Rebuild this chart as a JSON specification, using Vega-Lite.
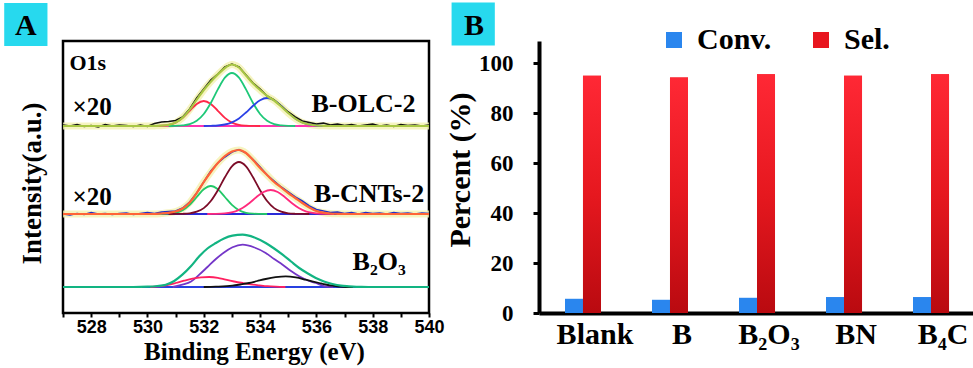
{
"$schema": "https://vega.github.io/schema/vega-lite/v6.json",
"padding": {"left": 2, "top": 1, "right": 0, "bottom": 0},
"background": "white",
"spacing": 110,
"bounds": "flush",
"resolve": {"scale": {"color": "independent"}, "legend": {"color": "independent"}},
"config": {"view": {"stroke": null}, "font": "Liberation Serif"},
"datasets": {
"spectra": [
{"s":"OLC raw","k":"raw","x":527,"y":188},{"s":"OLC raw","k":"raw","x":527.25,"y":187},{"s":"OLC raw","k":"raw","x":527.5,"y":188.5},{"s":"OLC raw","k":"raw","x":527.75,"y":186.5},{"s":"OLC raw","k":"raw","x":528,"y":187.5},{"s":"OLC raw","k":"raw","x":528.25,"y":186},{"s":"OLC raw","k":"raw","x":528.5,"y":188.5},{"s":"OLC raw","k":"raw","x":528.75,"y":187},{"s":"OLC raw","k":"raw","x":529,"y":188},{"s":"OLC raw","k":"raw","x":529.25,"y":187.5},{"s":"OLC raw","k":"raw","x":529.5,"y":186.5},{"s":"OLC raw","k":"raw","x":529.75,"y":188},{"s":"OLC raw","k":"raw","x":530,"y":186.5},{"s":"OLC raw","k":"raw","x":530.25,"y":189.5},{"s":"OLC raw","k":"raw","x":530.5,"y":191},{"s":"OLC raw","k":"raw","x":530.75,"y":191.5},{"s":"OLC raw","k":"raw","x":531,"y":192.5},{"s":"OLC raw","k":"raw","x":531.25,"y":196},{"s":"OLC raw","k":"raw","x":531.5,"y":204},{"s":"OLC raw","k":"raw","x":531.75,"y":215},{"s":"OLC raw","k":"raw","x":532,"y":224},{"s":"OLC raw","k":"raw","x":532.25,"y":233},{"s":"OLC raw","k":"raw","x":532.5,"y":239},{"s":"OLC raw","k":"raw","x":532.75,"y":246},{"s":"OLC raw","k":"raw","x":533,"y":249},{"s":"OLC raw","k":"raw","x":533.25,"y":246},{"s":"OLC raw","k":"raw","x":533.5,"y":238},{"s":"OLC raw","k":"raw","x":533.75,"y":230},{"s":"OLC raw","k":"raw","x":534,"y":224},{"s":"OLC raw","k":"raw","x":534.25,"y":217},{"s":"OLC raw","k":"raw","x":534.5,"y":213},{"s":"OLC raw","k":"raw","x":534.75,"y":207},{"s":"OLC raw","k":"raw","x":535,"y":201},{"s":"OLC raw","k":"raw","x":535.25,"y":196},{"s":"OLC raw","k":"raw","x":535.5,"y":192},{"s":"OLC raw","k":"raw","x":535.75,"y":190.5},{"s":"OLC raw","k":"raw","x":536,"y":189},{"s":"OLC raw","k":"raw","x":536.25,"y":190},{"s":"OLC raw","k":"raw","x":536.5,"y":188},{"s":"OLC raw","k":"raw","x":536.75,"y":189},{"s":"OLC raw","k":"raw","x":537,"y":187.5},{"s":"OLC raw","k":"raw","x":537.25,"y":188.5},{"s":"OLC raw","k":"raw","x":537.5,"y":187},{"s":"OLC raw","k":"raw","x":537.75,"y":188},{"s":"OLC raw","k":"raw","x":538,"y":189},{"s":"OLC raw","k":"raw","x":538.25,"y":187},{"s":"OLC raw","k":"raw","x":538.5,"y":188},{"s":"OLC raw","k":"raw","x":538.75,"y":186.5},{"s":"OLC raw","k":"raw","x":539,"y":188.5},{"s":"OLC raw","k":"raw","x":539.25,"y":187.5},{"s":"OLC raw","k":"raw","x":539.5,"y":188},{"s":"OLC raw","k":"raw","x":539.75,"y":187},{"s":"OLC raw","k":"raw","x":540,"y":188},
{"s":"OLC fit","k":"fit","x":527,"y":187},{"s":"OLC fit","k":"fit","x":530,"y":187},{"s":"OLC fit","k":"fit","x":530.25,"y":187.1},{"s":"OLC fit","k":"fit","x":530.5,"y":187.3},{"s":"OLC fit","k":"fit","x":530.75,"y":188.1},{"s":"OLC fit","k":"fit","x":531,"y":190.4},{"s":"OLC fit","k":"fit","x":531.25,"y":195.4},{"s":"OLC fit","k":"fit","x":531.5,"y":203.4},{"s":"OLC fit","k":"fit","x":531.75,"y":213.4},{"s":"OLC fit","k":"fit","x":532,"y":223},{"s":"OLC fit","k":"fit","x":532.25,"y":231.3},{"s":"OLC fit","k":"fit","x":532.5,"y":238.6},{"s":"OLC fit","k":"fit","x":532.75,"y":245},{"s":"OLC fit","k":"fit","x":533,"y":248.5},{"s":"OLC fit","k":"fit","x":533.25,"y":245.5},{"s":"OLC fit","k":"fit","x":533.5,"y":237.5},{"s":"OLC fit","k":"fit","x":533.75,"y":229.5},{"s":"OLC fit","k":"fit","x":534,"y":223},{"s":"OLC fit","k":"fit","x":534.25,"y":217},{"s":"OLC fit","k":"fit","x":534.5,"y":212.5},{"s":"OLC fit","k":"fit","x":534.75,"y":206.5},{"s":"OLC fit","k":"fit","x":535,"y":200},{"s":"OLC fit","k":"fit","x":535.25,"y":194.4},{"s":"OLC fit","k":"fit","x":535.5,"y":190.5},{"s":"OLC fit","k":"fit","x":535.75,"y":188.5},{"s":"OLC fit","k":"fit","x":536,"y":187.5},{"s":"OLC fit","k":"fit","x":536.25,"y":187.2},{"s":"OLC fit","k":"fit","x":536.5,"y":187},{"s":"OLC fit","k":"fit","x":540,"y":187},
{"s":"OLC p1","k":"peak","x":530,"y":187},{"s":"OLC p1","k":"peak","x":530.25,"y":187.05},{"s":"OLC p1","k":"peak","x":530.5,"y":187.3},{"s":"OLC p1","k":"peak","x":530.75,"y":188.1},{"s":"OLC p1","k":"peak","x":531,"y":190.4},{"s":"OLC p1","k":"peak","x":531.25,"y":195.1},{"s":"OLC p1","k":"peak","x":531.5,"y":202.2},{"s":"OLC p1","k":"peak","x":531.75,"y":209.1},{"s":"OLC p1","k":"peak","x":532,"y":212},{"s":"OLC p1","k":"peak","x":532.25,"y":209.1},{"s":"OLC p1","k":"peak","x":532.5,"y":202.2},{"s":"OLC p1","k":"peak","x":532.75,"y":195.1},{"s":"OLC p1","k":"peak","x":533,"y":190.4},{"s":"OLC p1","k":"peak","x":533.25,"y":188.1},{"s":"OLC p1","k":"peak","x":533.5,"y":187.3},{"s":"OLC p1","k":"peak","x":533.75,"y":187.05},{"s":"OLC p1","k":"peak","x":534,"y":187},
{"s":"OLC p2","k":"peak","x":530.75,"y":187},{"s":"OLC p2","k":"peak","x":531,"y":187.1},{"s":"OLC p2","k":"peak","x":531.25,"y":187.6},{"s":"OLC p2","k":"peak","x":531.5,"y":188.9},{"s":"OLC p2","k":"peak","x":531.75,"y":192.2},{"s":"OLC p2","k":"peak","x":532,"y":199},{"s":"OLC p2","k":"peak","x":532.25,"y":210},{"s":"OLC p2","k":"peak","x":532.5,"y":223.6},{"s":"OLC p2","k":"peak","x":532.75,"y":235.3},{"s":"OLC p2","k":"peak","x":533,"y":240},{"s":"OLC p2","k":"peak","x":533.25,"y":235.3},{"s":"OLC p2","k":"peak","x":533.5,"y":223.6},{"s":"OLC p2","k":"peak","x":533.75,"y":210},{"s":"OLC p2","k":"peak","x":534,"y":199},{"s":"OLC p2","k":"peak","x":534.25,"y":192.2},{"s":"OLC p2","k":"peak","x":534.5,"y":188.9},{"s":"OLC p2","k":"peak","x":534.75,"y":187.6},{"s":"OLC p2","k":"peak","x":535,"y":187.1},{"s":"OLC p2","k":"peak","x":535.25,"y":187},
{"s":"OLC p3","k":"peak","x":532,"y":187},{"s":"OLC p3","k":"peak","x":532.25,"y":187.2},{"s":"OLC p3","k":"peak","x":532.5,"y":187.5},{"s":"OLC p3","k":"peak","x":532.75,"y":188.5},{"s":"OLC p3","k":"peak","x":533,"y":190.7},{"s":"OLC p3","k":"peak","x":533.25,"y":194.6},{"s":"OLC p3","k":"peak","x":533.5,"y":200.5},{"s":"OLC p3","k":"peak","x":533.75,"y":207.2},{"s":"OLC p3","k":"peak","x":534,"y":212.8},{"s":"OLC p3","k":"peak","x":534.25,"y":215},{"s":"OLC p3","k":"peak","x":534.5,"y":212.8},{"s":"OLC p3","k":"peak","x":534.75,"y":207.2},{"s":"OLC p3","k":"peak","x":535,"y":200.5},{"s":"OLC p3","k":"peak","x":535.25,"y":194.6},{"s":"OLC p3","k":"peak","x":535.5,"y":190.7},{"s":"OLC p3","k":"peak","x":535.75,"y":188.5},{"s":"OLC p3","k":"peak","x":536,"y":187.5},{"s":"OLC p3","k":"peak","x":536.25,"y":187.2},{"s":"OLC p3","k":"peak","x":536.5,"y":187},
{"s":"OLC base","k":"base","x":530.4,"y":187},{"s":"OLC base","k":"base","x":536.3,"y":187},
{"s":"CNT raw","k":"raw","x":527,"y":99},{"s":"CNT raw","k":"raw","x":527.25,"y":98},{"s":"CNT raw","k":"raw","x":527.5,"y":99.5},{"s":"CNT raw","k":"raw","x":527.75,"y":98.5},{"s":"CNT raw","k":"raw","x":528,"y":100.5},{"s":"CNT raw","k":"raw","x":528.25,"y":99},{"s":"CNT raw","k":"raw","x":528.5,"y":99.5},{"s":"CNT raw","k":"raw","x":528.75,"y":98.5},{"s":"CNT raw","k":"raw","x":529,"y":99.5},{"s":"CNT raw","k":"raw","x":529.25,"y":100},{"s":"CNT raw","k":"raw","x":529.5,"y":98.5},{"s":"CNT raw","k":"raw","x":529.75,"y":99.5},{"s":"CNT raw","k":"raw","x":530,"y":100.5},{"s":"CNT raw","k":"raw","x":530.25,"y":99.5},{"s":"CNT raw","k":"raw","x":530.5,"y":101},{"s":"CNT raw","k":"raw","x":530.75,"y":101.5},{"s":"CNT raw","k":"raw","x":531,"y":102},{"s":"CNT raw","k":"raw","x":531.25,"y":105},{"s":"CNT raw","k":"raw","x":531.5,"y":111},{"s":"CNT raw","k":"raw","x":531.75,"y":120},{"s":"CNT raw","k":"raw","x":532,"y":131},{"s":"CNT raw","k":"raw","x":532.25,"y":142},{"s":"CNT raw","k":"raw","x":532.5,"y":150},{"s":"CNT raw","k":"raw","x":532.75,"y":156},{"s":"CNT raw","k":"raw","x":533,"y":161},{"s":"CNT raw","k":"raw","x":533.25,"y":163.5},{"s":"CNT raw","k":"raw","x":533.5,"y":160},{"s":"CNT raw","k":"raw","x":533.75,"y":153.5},{"s":"CNT raw","k":"raw","x":534,"y":146},{"s":"CNT raw","k":"raw","x":534.25,"y":138},{"s":"CNT raw","k":"raw","x":534.5,"y":132},{"s":"CNT raw","k":"raw","x":534.75,"y":126},{"s":"CNT raw","k":"raw","x":535,"y":121},{"s":"CNT raw","k":"raw","x":535.25,"y":116},{"s":"CNT raw","k":"raw","x":535.5,"y":112},{"s":"CNT raw","k":"raw","x":535.75,"y":107},{"s":"CNT raw","k":"raw","x":536,"y":103.5},{"s":"CNT raw","k":"raw","x":536.25,"y":102},{"s":"CNT raw","k":"raw","x":536.5,"y":100.5},{"s":"CNT raw","k":"raw","x":536.75,"y":101},{"s":"CNT raw","k":"raw","x":537,"y":99.5},{"s":"CNT raw","k":"raw","x":537.25,"y":100.5},{"s":"CNT raw","k":"raw","x":537.5,"y":99},{"s":"CNT raw","k":"raw","x":537.75,"y":100.5},{"s":"CNT raw","k":"raw","x":538,"y":99.5},{"s":"CNT raw","k":"raw","x":538.25,"y":100},{"s":"CNT raw","k":"raw","x":538.5,"y":99},{"s":"CNT raw","k":"raw","x":538.75,"y":100.5},{"s":"CNT raw","k":"raw","x":539,"y":99.5},{"s":"CNT raw","k":"raw","x":539.25,"y":100},{"s":"CNT raw","k":"raw","x":539.5,"y":99},{"s":"CNT raw","k":"raw","x":539.75,"y":100},{"s":"CNT raw","k":"raw","x":540,"y":99.5},
{"s":"CNT fit","k":"fit","x":527,"y":99},{"s":"CNT fit","k":"fit","x":530.25,"y":99},{"s":"CNT fit","k":"fit","x":530.5,"y":99.5},{"s":"CNT fit","k":"fit","x":530.75,"y":100.2},{"s":"CNT fit","k":"fit","x":531,"y":101.5},{"s":"CNT fit","k":"fit","x":531.25,"y":104.5},{"s":"CNT fit","k":"fit","x":531.5,"y":110.5},{"s":"CNT fit","k":"fit","x":531.75,"y":120},{"s":"CNT fit","k":"fit","x":532,"y":131},{"s":"CNT fit","k":"fit","x":532.25,"y":141},{"s":"CNT fit","k":"fit","x":532.5,"y":150},{"s":"CNT fit","k":"fit","x":532.75,"y":157},{"s":"CNT fit","k":"fit","x":533,"y":161.5},{"s":"CNT fit","k":"fit","x":533.25,"y":163},{"s":"CNT fit","k":"fit","x":533.5,"y":160},{"s":"CNT fit","k":"fit","x":533.75,"y":153},{"s":"CNT fit","k":"fit","x":534,"y":145},{"s":"CNT fit","k":"fit","x":534.25,"y":138},{"s":"CNT fit","k":"fit","x":534.5,"y":131},{"s":"CNT fit","k":"fit","x":534.75,"y":125.5},{"s":"CNT fit","k":"fit","x":535,"y":120},{"s":"CNT fit","k":"fit","x":535.25,"y":115},{"s":"CNT fit","k":"fit","x":535.5,"y":110},{"s":"CNT fit","k":"fit","x":535.75,"y":105.5},{"s":"CNT fit","k":"fit","x":536,"y":102},{"s":"CNT fit","k":"fit","x":536.25,"y":100.3},{"s":"CNT fit","k":"fit","x":536.5,"y":99.5},{"s":"CNT fit","k":"fit","x":536.75,"y":99.2},{"s":"CNT fit","k":"fit","x":537,"y":99},{"s":"CNT fit","k":"fit","x":540,"y":99},
{"s":"CNT p1","k":"peak","x":530.25,"y":99},{"s":"CNT p1","k":"peak","x":530.5,"y":99.1},{"s":"CNT p1","k":"peak","x":530.75,"y":99.3},{"s":"CNT p1","k":"peak","x":531,"y":100.2},{"s":"CNT p1","k":"peak","x":531.25,"y":102.8},{"s":"CNT p1","k":"peak","x":531.5,"y":108.1},{"s":"CNT p1","k":"peak","x":531.75,"y":116},{"s":"CNT p1","k":"peak","x":532,"y":123.7},{"s":"CNT p1","k":"peak","x":532.25,"y":127},{"s":"CNT p1","k":"peak","x":532.5,"y":123.7},{"s":"CNT p1","k":"peak","x":532.75,"y":116},{"s":"CNT p1","k":"peak","x":533,"y":108.1},{"s":"CNT p1","k":"peak","x":533.25,"y":102.8},{"s":"CNT p1","k":"peak","x":533.5,"y":100.2},{"s":"CNT p1","k":"peak","x":533.75,"y":99.3},{"s":"CNT p1","k":"peak","x":534,"y":99.1},{"s":"CNT p1","k":"peak","x":534.25,"y":99},
{"s":"CNT p2","k":"peak","x":530.75,"y":99},{"s":"CNT p2","k":"peak","x":531,"y":99.05},{"s":"CNT p2","k":"peak","x":531.25,"y":99.2},{"s":"CNT p2","k":"peak","x":531.5,"y":99.7},{"s":"CNT p2","k":"peak","x":531.75,"y":101.3},{"s":"CNT p2","k":"peak","x":532,"y":104.9},{"s":"CNT p2","k":"peak","x":532.25,"y":112},{"s":"CNT p2","k":"peak","x":532.5,"y":122.8},{"s":"CNT p2","k":"peak","x":532.75,"y":135.7},{"s":"CNT p2","k":"peak","x":533,"y":146.7},{"s":"CNT p2","k":"peak","x":533.25,"y":151},{"s":"CNT p2","k":"peak","x":533.5,"y":146.7},{"s":"CNT p2","k":"peak","x":533.75,"y":135.7},{"s":"CNT p2","k":"peak","x":534,"y":122.8},{"s":"CNT p2","k":"peak","x":534.25,"y":112},{"s":"CNT p2","k":"peak","x":534.5,"y":104.9},{"s":"CNT p2","k":"peak","x":534.75,"y":101.3},{"s":"CNT p2","k":"peak","x":535,"y":99.7},{"s":"CNT p2","k":"peak","x":535.25,"y":99.2},{"s":"CNT p2","k":"peak","x":535.5,"y":99.05},{"s":"CNT p2","k":"peak","x":535.75,"y":99},
{"s":"CNT p3","k":"peak","x":532.125,"y":99},{"s":"CNT p3","k":"peak","x":532.375,"y":99.1},{"s":"CNT p3","k":"peak","x":532.625,"y":99.3},{"s":"CNT p3","k":"peak","x":532.875,"y":100.1},{"s":"CNT p3","k":"peak","x":533.125,"y":101.7},{"s":"CNT p3","k":"peak","x":533.375,"y":105},{"s":"CNT p3","k":"peak","x":533.625,"y":110},{"s":"CNT p3","k":"peak","x":533.875,"y":116},{"s":"CNT p3","k":"peak","x":534.125,"y":121},{"s":"CNT p3","k":"peak","x":534.375,"y":123},{"s":"CNT p3","k":"peak","x":534.625,"y":121},{"s":"CNT p3","k":"peak","x":534.875,"y":116},{"s":"CNT p3","k":"peak","x":535.125,"y":110},{"s":"CNT p3","k":"peak","x":535.375,"y":105},{"s":"CNT p3","k":"peak","x":535.625,"y":101.7},{"s":"CNT p3","k":"peak","x":535.875,"y":100.1},{"s":"CNT p3","k":"peak","x":536.125,"y":99.3},{"s":"CNT p3","k":"peak","x":536.375,"y":99.1},{"s":"CNT p3","k":"peak","x":536.625,"y":99},
{"s":"CNT base","k":"base","x":530.5,"y":99},{"s":"CNT base","k":"base","x":537,"y":99},
{"s":"B2O3 fit","k":"fit","x":527,"y":26},{"s":"B2O3 fit","k":"fit","x":529.5,"y":26},{"s":"B2O3 fit","k":"fit","x":530,"y":26.3},{"s":"B2O3 fit","k":"fit","x":530.35,"y":27},{"s":"B2O3 fit","k":"fit","x":530.65,"y":28.3},{"s":"B2O3 fit","k":"fit","x":530.95,"y":32},{"s":"B2O3 fit","k":"fit","x":531.24,"y":38.3},{"s":"B2O3 fit","k":"fit","x":531.55,"y":47},{"s":"B2O3 fit","k":"fit","x":531.84,"y":56.7},{"s":"B2O3 fit","k":"fit","x":532.13,"y":64.5},{"s":"B2O3 fit","k":"fit","x":532.43,"y":70},{"s":"B2O3 fit","k":"fit","x":532.72,"y":74.5},{"s":"B2O3 fit","k":"fit","x":533.02,"y":77.3},{"s":"B2O3 fit","k":"fit","x":533.38,"y":78.3},{"s":"B2O3 fit","k":"fit","x":533.8,"y":75.5},{"s":"B2O3 fit","k":"fit","x":534.2,"y":70},{"s":"B2O3 fit","k":"fit","x":534.5,"y":64.5},{"s":"B2O3 fit","k":"fit","x":534.8,"y":58.3},{"s":"B2O3 fit","k":"fit","x":535.1,"y":51.5},{"s":"B2O3 fit","k":"fit","x":535.39,"y":45},{"s":"B2O3 fit","k":"fit","x":535.7,"y":39.5},{"s":"B2O3 fit","k":"fit","x":535.98,"y":35},{"s":"B2O3 fit","k":"fit","x":536.27,"y":31.5},{"s":"B2O3 fit","k":"fit","x":536.57,"y":29},{"s":"B2O3 fit","k":"fit","x":536.87,"y":27.3},{"s":"B2O3 fit","k":"fit","x":537.16,"y":26.7},{"s":"B2O3 fit","k":"fit","x":537.6,"y":26.1},{"s":"B2O3 fit","k":"fit","x":538,"y":26},{"s":"B2O3 fit","k":"fit","x":540,"y":26},
{"s":"B2O3 p1","k":"peak","x":530.9,"y":26},{"s":"B2O3 p1","k":"peak","x":531.24,"y":28.3},{"s":"B2O3 p1","k":"peak","x":531.55,"y":31.5},{"s":"B2O3 p1","k":"peak","x":531.84,"y":38.3},{"s":"B2O3 p1","k":"peak","x":532.13,"y":46},{"s":"B2O3 p1","k":"peak","x":532.43,"y":54},{"s":"B2O3 p1","k":"peak","x":532.72,"y":60.5},{"s":"B2O3 p1","k":"peak","x":533.02,"y":65.7},{"s":"B2O3 p1","k":"peak","x":533.38,"y":68.3},{"s":"B2O3 p1","k":"peak","x":533.8,"y":65.5},{"s":"B2O3 p1","k":"peak","x":534.2,"y":60},{"s":"B2O3 p1","k":"peak","x":534.5,"y":54},{"s":"B2O3 p1","k":"peak","x":534.8,"y":48.3},{"s":"B2O3 p1","k":"peak","x":535.1,"y":42},{"s":"B2O3 p1","k":"peak","x":535.39,"y":36.7},{"s":"B2O3 p1","k":"peak","x":535.7,"y":32.5},{"s":"B2O3 p1","k":"peak","x":535.98,"y":30},{"s":"B2O3 p1","k":"peak","x":536.3,"y":26.7},{"s":"B2O3 p1","k":"peak","x":536.6,"y":26},
{"s":"B2O3 p2","k":"peak","x":530.1,"y":26},{"s":"B2O3 p2","k":"peak","x":530.42,"y":26.7},{"s":"B2O3 p2","k":"peak","x":530.7,"y":28},{"s":"B2O3 p2","k":"peak","x":531,"y":30},{"s":"B2O3 p2","k":"peak","x":531.3,"y":32.3},{"s":"B2O3 p2","k":"peak","x":531.6,"y":34.3},{"s":"B2O3 p2","k":"peak","x":531.9,"y":35.6},{"s":"B2O3 p2","k":"peak","x":532.19,"y":36},{"s":"B2O3 p2","k":"peak","x":532.5,"y":35.2},{"s":"B2O3 p2","k":"peak","x":532.78,"y":33.3},{"s":"B2O3 p2","k":"peak","x":533.08,"y":31.5},{"s":"B2O3 p2","k":"peak","x":533.38,"y":30},{"s":"B2O3 p2","k":"peak","x":533.67,"y":28.7},{"s":"B2O3 p2","k":"peak","x":533.97,"y":27.7},{"s":"B2O3 p2","k":"peak","x":534.26,"y":26.8},{"s":"B2O3 p2","k":"peak","x":534.56,"y":26.3},{"s":"B2O3 p2","k":"peak","x":534.9,"y":26},
{"s":"B2O3 p3","k":"peak","x":532,"y":26},{"s":"B2O3 p3","k":"peak","x":532.43,"y":26.3},{"s":"B2O3 p3","k":"peak","x":533.02,"y":27.3},{"s":"B2O3 p3","k":"peak","x":533.3,"y":28.5},{"s":"B2O3 p3","k":"peak","x":533.61,"y":30},{"s":"B2O3 p3","k":"peak","x":533.9,"y":32},{"s":"B2O3 p3","k":"peak","x":534.2,"y":34},{"s":"B2O3 p3","k":"peak","x":534.55,"y":35.8},{"s":"B2O3 p3","k":"peak","x":534.91,"y":36.7},{"s":"B2O3 p3","k":"peak","x":535.27,"y":35.6},{"s":"B2O3 p3","k":"peak","x":535.62,"y":33.3},{"s":"B2O3 p3","k":"peak","x":535.85,"y":31.7},{"s":"B2O3 p3","k":"peak","x":536.1,"y":30},{"s":"B2O3 p3","k":"peak","x":536.33,"y":28.5},{"s":"B2O3 p3","k":"peak","x":536.57,"y":27.3},{"s":"B2O3 p3","k":"peak","x":536.8,"y":26.5},{"s":"B2O3 p3","k":"peak","x":537.04,"y":26},{"s":"B2O3 p3","k":"peak","x":537.3,"y":26},
{"s":"B2O3 base","k":"base","x":529.8,"y":26},{"s":"B2O3 base","k":"base","x":539.6,"y":26}
],
"labels": [
{"g":"o1s","t":"O1s","x":527.23,"y":243.5},
{"g":"times","t":"×20","x":527.34,"y":198.5},
{"g":"times","t":"×20","x":527.34,"y":108.5},
{"g":"name","t":"B-OLC-2","x":539.52,"y":201.5},
{"g":"name","t":"B-CNTs-2","x":539.83,"y":111.5},
{"g":"b2o3","t":"B₂O₃","x":538.23,"y":43.5},
{"g":"panel","t":"A","x":525.68,"y":278},
{"g":"panel","t":"B","x":541.6,"y":278},
{"g":"box","t":"","x":525.68,"y":288.5},
{"g":"box","t":"","x":541.57,"y":289}
],
"bars": [
{"cat":"Blank","series":"Conv.","value":5.7},{"cat":"Blank","series":"Sel.","value":95.1},
{"cat":"B","series":"Conv.","value":5.3},{"cat":"B","series":"Sel.","value":94.4},
{"cat":"B₂O₃","series":"Conv.","value":6.1},{"cat":"B₂O₃","series":"Sel.","value":95.7},
{"cat":"BN","series":"Conv.","value":6.4},{"cat":"BN","series":"Sel.","value":95.1},
{"cat":"B₄C","series":"Conv.","value":6.4},{"cat":"B₄C","series":"Sel.","value":95.7}
]
},
"hconcat": [
{
"width": 366, "height": 272,
"view": {"stroke": "black", "strokeWidth": 2.5},
"encoding": {
"x": {"field": "x", "type": "quantitative", "scale": {"domain": [527, 540], "nice": false, "zero": false},
"axis": {"title": "Binding Energy (eV)", "values": [527,528,529,530,531,532,533,534,535,536,537,538,539,540], "labelExpr": "datum.value % 2 == 0 ? datum.label : ''", "grid": false, "domain": false, "ticks": true, "tickSize": 4, "tickWidth": 2, "tickColor": "black", "labelFont": "Liberation Sans", "labelFontWeight": "bold", "labelFontSize": 18, "labelColor": "black", "labelPadding": 1, "labelFlush": false, "labelOverlap": false, "titleFont": "Liberation Serif", "titleFontSize": 25, "titleFontWeight": "bold", "titleColor": "black", "titlePadding": 3, "titleX": 191}},
"y": {"field": "y", "type": "quantitative", "scale": {"domain": [0, 272], "nice": false, "zero": false},
"axis": {"title": "Intensity(a.u.)", "labels": false, "ticks": false, "domain": false, "grid": false, "titleFont": "Liberation Serif", "titleFontSize": 27, "titleFontWeight": "bold", "titleColor": "black", "titlePadding": 17, "titleY": 142}}
},
"layer": [
{"data": {"name": "spectra"}, "transform": [{"filter": "datum.k == 'fit' && datum.s != 'B2O3 fit'"}],
"mark": {"type": "line", "interpolate": "monotone", "strokeWidth": 7, "color": "#f4f1b0", "opacity": 0.8},
"encoding": {"detail": {"field": "s"}}},
{"data": {"name": "spectra"}, "transform": [{"filter": "datum.k == 'base'"}],
"mark": {"type": "line", "strokeWidth": 1.8},
"encoding": {"color": {"field": "s", "type": "nominal", "legend": null, "scale": {"domain": ["OLC raw","OLC fit","OLC p1","OLC p2","OLC p3","OLC base","CNT raw","CNT fit","CNT p1","CNT p2","CNT p3","CNT base","B2O3 fit","B2O3 p1","B2O3 p2","B2O3 p3","B2O3 base"], "range": ["#111111","#a9c744","#ff2848","#1ec878","#2a40e6","#ff34b0","#2030c8","#ff6436","#22c868","#7c0c28","#ff2a7c","#2a2ad8","#12b482","#7436c8","#ff2060","#111111","#2840e0"]}}}},
{"data": {"name": "spectra"}, "transform": [{"filter": "datum.k == 'peak'"}],
"mark": {"type": "line", "interpolate": "monotone", "strokeWidth": 1.8},
"encoding": {"color": {"field": "s", "type": "nominal", "legend": null, "scale": {"domain": ["OLC raw","OLC fit","OLC p1","OLC p2","OLC p3","OLC base","CNT raw","CNT fit","CNT p1","CNT p2","CNT p3","CNT base","B2O3 fit","B2O3 p1","B2O3 p2","B2O3 p3","B2O3 base"], "range": ["#111111","#a9c744","#ff2848","#1ec878","#2a40e6","#ff34b0","#2030c8","#ff6436","#22c868","#7c0c28","#ff2a7c","#2a2ad8","#12b482","#7436c8","#ff2060","#111111","#2840e0"]}}}},
{"data": {"name": "spectra"}, "transform": [{"filter": "datum.k == 'raw'"}],
"mark": {"type": "line", "interpolate": "linear", "strokeWidth": 1.6},
"encoding": {"color": {"field": "s", "type": "nominal", "legend": null, "scale": {"domain": ["OLC raw","OLC fit","OLC p1","OLC p2","OLC p3","OLC base","CNT raw","CNT fit","CNT p1","CNT p2","CNT p3","CNT base","B2O3 fit","B2O3 p1","B2O3 p2","B2O3 p3","B2O3 base"], "range": ["#111111","#a9c744","#ff2848","#1ec878","#2a40e6","#ff34b0","#2030c8","#ff6436","#22c868","#7c0c28","#ff2a7c","#2a2ad8","#12b482","#7436c8","#ff2060","#111111","#2840e0"]}}}},
{"data": {"name": "spectra"}, "transform": [{"filter": "datum.k == 'fit'"}],
"mark": {"type": "line", "interpolate": "monotone", "strokeWidth": 2.2},
"encoding": {"color": {"field": "s", "type": "nominal", "legend": null, "scale": {"domain": ["OLC raw","OLC fit","OLC p1","OLC p2","OLC p3","OLC base","CNT raw","CNT fit","CNT p1","CNT p2","CNT p3","CNT base","B2O3 fit","B2O3 p1","B2O3 p2","B2O3 p3","B2O3 base"], "range": ["#111111","#a9c744","#ff2848","#1ec878","#2a40e6","#ff34b0","#2030c8","#ff6436","#22c868","#7c0c28","#ff2a7c","#2a2ad8","#12b482","#7436c8","#ff2060","#111111","#2840e0"]}}}},
{"data": {"name": "labels"}, "transform": [{"filter": "datum.g == 'o1s'"}],
"mark": {"type": "text", "font": "Liberation Serif", "fontWeight": "bold", "fontSize": 22, "align": "left", "baseline": "alphabetic", "color": "black"},
"encoding": {"text": {"field": "t"}}},
{"data": {"name": "labels"}, "transform": [{"filter": "datum.g == 'times'"}],
"mark": {"type": "text", "font": "Liberation Serif", "fontWeight": "bold", "fontSize": 25, "align": "left", "baseline": "alphabetic", "color": "black"},
"encoding": {"text": {"field": "t"}}},
{"data": {"name": "labels"}, "transform": [{"filter": "datum.g == 'name'"}],
"mark": {"type": "text", "font": "Liberation Serif", "fontWeight": "bold", "fontSize": 26, "align": "right", "baseline": "alphabetic", "color": "black"},
"encoding": {"text": {"field": "t"}}},
{"data": {"name": "labels"}, "transform": [{"filter": "datum.g == 'b2o3'"}],
"mark": {"type": "text", "font": "Liberation Serif", "fontWeight": "bold", "fontSize": 26, "align": "center", "baseline": "alphabetic", "color": "black"},
"encoding": {"text": {"field": "t"}}},
{"data": {"name": "labels"}, "transform": [{"filter": "datum.g == 'box'"}],
"mark": {"type": "square", "size": 1870, "filled": true, "opacity": 1, "color": "#27d9ee", "clip": false},
"encoding": {}},
{"data": {"name": "labels"}, "transform": [{"filter": "datum.g == 'panel'"}],
"mark": {"type": "text", "font": "Liberation Serif", "fontWeight": "bold", "fontSize": 30, "align": "center", "baseline": "alphabetic", "color": "black", "clip": false},
"encoding": {"text": {"field": "t"}}}
]
},
{
"width": 436, "height": 272,
"data": {"name": "bars"},
"encoding": {
"x": {"field": "cat", "type": "nominal", "sort": ["Blank","B","B₂O₃","BN","B₄C"], "scale": {"paddingInner": 0.586, "paddingOuter": 0.2985},
"axis": {"title": null, "domainColor": "black", "domainWidth": 4, "ticks": false, "labelAngle": 0, "labelFont": "Liberation Serif", "labelFontWeight": "bold", "labelFontSize": 30, "labelColor": "black", "labelPadding": 6, "labelOffset": 12}},
"xOffset": {"field": "series", "type": "nominal", "sort": ["Conv.","Sel."], "scale": {"paddingInner": 0, "paddingOuter": 0}},
"y": {"field": "value", "type": "quantitative", "scale": {"domain": [0, 109], "nice": false},
"axis": {"title": "Percent (%)", "values": [0,20,40,60,80,100], "grid": false, "domainColor": "black", "domainWidth": 4, "tickColor": "black", "tickWidth": 3, "tickSize": 6, "labelFont": "Liberation Serif", "labelFontWeight": "bold", "labelFontSize": 23, "labelColor": "black", "labelPadding": 20, "titleFont": "Liberation Serif", "titleFontSize": 30, "titleFontWeight": "bold", "titleColor": "black", "titlePadding": 3, "titleY": 128.5}}
},
"layer": [
{"mark": {"type": "bar"},
"encoding": {"color": {"field": "series", "type": "nominal", "sort": ["Conv.","Sel."], "scale": {"domain": ["Conv.","Sel."], "range": ["#2a86ee","#e8161f"]},
"legend": {"title": null, "orient": "none", "legendX": 120, "legendY": -16, "direction": "horizontal", "symbolType": "square", "symbolSize": 256, "symbolStrokeWidth": 0, "labelFont": "Liberation Serif", "labelFontSize": 30, "labelFontWeight": "bold", "labelColor": "black", "labelOffset": 8, "columnPadding": 34}}}},
{"transform": [{"filter": "datum.series == 'Sel.'"}],
"mark": {"type": "bar", "color": {"gradient": "linear", "x1": 0, "y1": 0, "x2": 0, "y2": 1, "stops": [{"offset": 0, "color": "#ff2835"}, {"offset": 0.5, "color": "#e6181f"}, {"offset": 1, "color": "#b90a10"}]}}}
]
}
]
}
